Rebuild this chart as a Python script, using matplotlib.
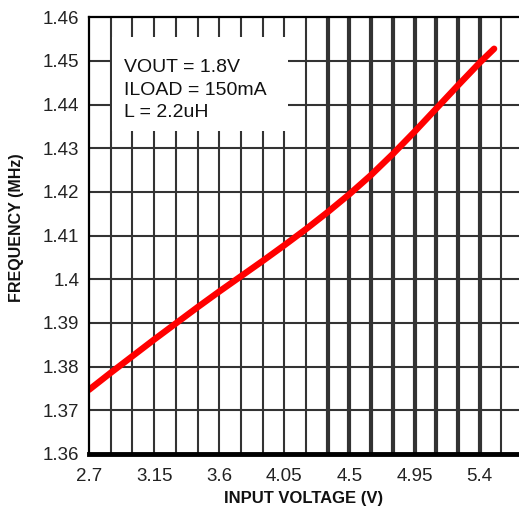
import numpy as np
import matplotlib
matplotlib.use('Agg')
import matplotlib.pyplot as plt
from matplotlib.patches import Rectangle

plt.rcParams['font.family'] = ['Liberation Sans', 'DejaVu Sans']

# ---------------------------------------------------------------------------
# Data
# ---------------------------------------------------------------------------
vin = [2.7, 2.85, 3.0, 3.15, 3.3, 3.45, 3.6, 3.75, 3.9, 4.05,
       4.2, 4.35, 4.5, 4.65, 4.8, 4.95, 5.1, 5.25, 5.4, 5.5]
freq = [1.3747, 1.3786, 1.3824, 1.3862, 1.3899, 1.3936, 1.3972, 1.4007,
        1.4042, 1.4078, 1.4115, 1.4154, 1.4195, 1.4239, 1.4287, 1.4338,
        1.4391, 1.4444, 1.4496, 1.4528]

x_ticks = [2.7, 3.15, 3.6, 4.05, 4.5, 4.95, 5.4]
x_tick_labels = ['2.7', '3.15', '3.6', '4.05', '4.5', '4.95', '5.4']
y_ticks = [1.36, 1.37, 1.38, 1.39, 1.40, 1.41, 1.42, 1.43, 1.44, 1.45, 1.46]
y_tick_labels = ['1.36', '1.37', '1.38', '1.39', '1.4', '1.41', '1.42',
                 '1.43', '1.44', '1.45', '1.46']

notes = ['VOUT = 1.8V', 'ILOAD = 150mA', 'L = 2.2uH']

# ---------------------------------------------------------------------------
# Figure
# ---------------------------------------------------------------------------
W, H = 519, 508
fig = plt.figure(figsize=(W / 100, H / 100), dpi=100)
ax = fig.add_axes([89 / W, 1 - 454 / H, 1 - 89 / W, (454 - 17.3) / H])

XMIN, XMAX = 2.7, 5.672
ax.set_xlim(XMIN, XMAX)
ax.set_ylim(1.36, 1.46)

# grid -- the scan shows heavier vertical lines between 4.35 V and 5.4 V
grid_col = '#333333'
for gx in np.arange(2.85, 5.6, 0.15):
    heavy = 4.3 < gx < 5.45
    ax.axvline(gx, color=grid_col, lw=3.0 if heavy else 1.5, zorder=1)
for gy in np.arange(1.37, 1.455, 0.01):
    ax.axhline(gy, color=grid_col, lw=1.5, zorder=1)

# white note box that blanks the grid behind the conditions text
ax.add_patch(Rectangle((2.862, 1.4340), 4.078 - 2.862, 1.4555 - 1.4340,
                       facecolor='white', edgecolor='none', zorder=2))
for txt, yb in zip(notes, [1.4475, 1.4423, 1.4372]):
    ax.text(2.942, yb, txt, fontsize=14, color='#111111',
            va='baseline', ha='left', zorder=4)

ax.plot(vin, freq, color='#ff0000', lw=4.6, solid_capstyle='round', zorder=3)

# spines
ax.spines['right'].set_visible(False)
ax.spines['left'].set_linewidth(1.6)
ax.spines['top'].set_linewidth(1.6)
ax.spines['bottom'].set_linewidth(3.5)
for s in ax.spines.values():
    s.set_color('black')
    s.set_zorder(5)

ax.set_xticks(x_ticks)
ax.set_xticklabels(x_tick_labels)
ax.set_yticks(y_ticks)
ax.set_yticklabels(y_tick_labels)
ax.tick_params(axis='both', length=0, labelsize=13.5, colors='#222222')
ax.tick_params(axis='y', pad=7)
ax.tick_params(axis='x', pad=10)

fig.text(304 / W, 1 - 498 / H, 'INPUT VOLTAGE (V)', fontsize=12,
         fontweight='bold', ha='center', va='center', color='#111111')
fig.text(17 / W, 1 - 228 / H, 'FREQUENCY (MHz)', fontsize=11.5,
         fontweight='bold', ha='center', va='center', rotation=90,
         color='#111111')

fig.savefig('out.png', dpi=100)
